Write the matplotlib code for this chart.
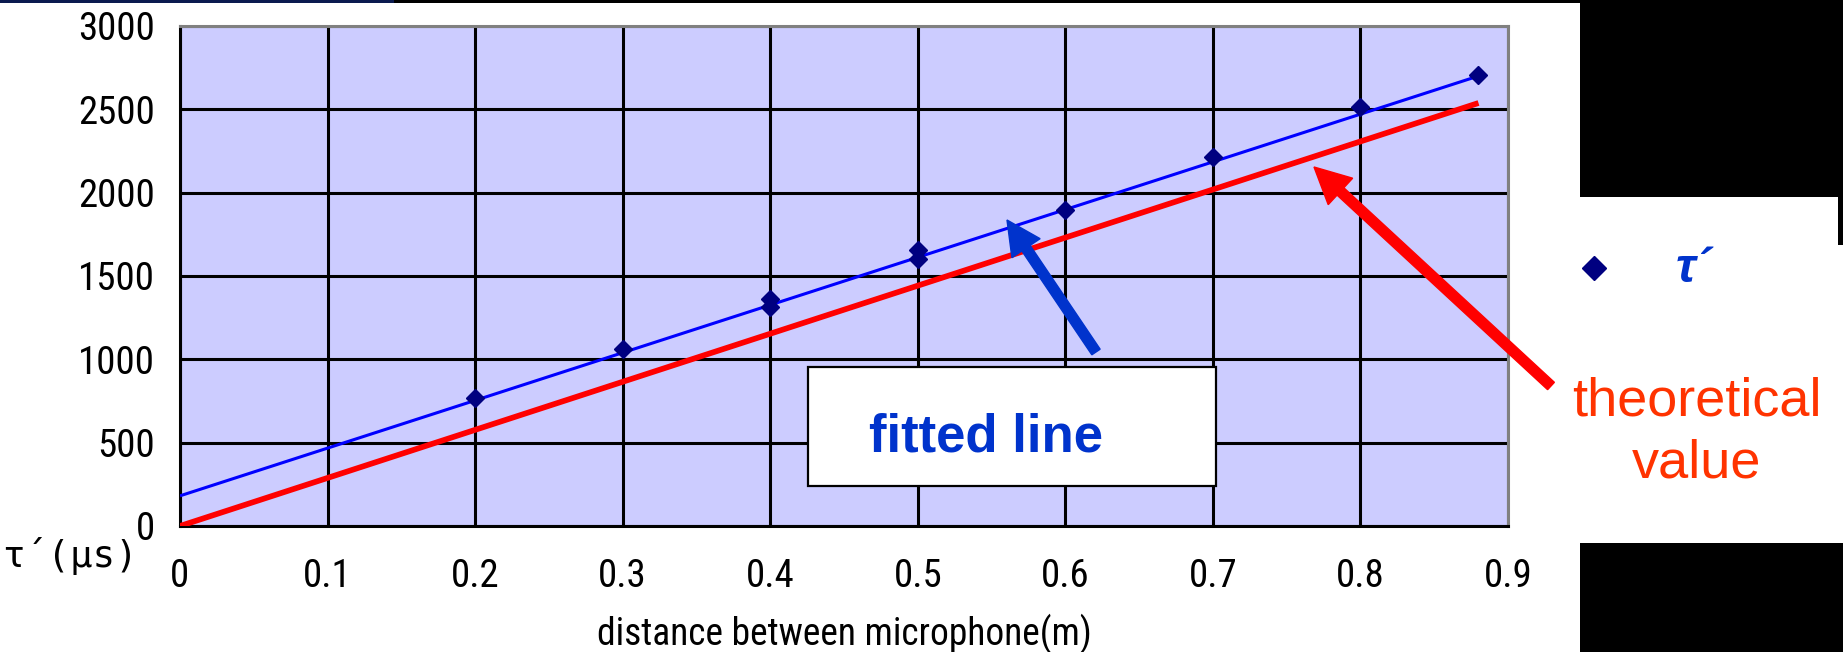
import matplotlib
matplotlib.use('Agg')
import matplotlib.pyplot as plt
from matplotlib import font_manager as fm
from matplotlib.patches import Rectangle, FancyArrow
from matplotlib.lines import Line2D
from matplotlib.transforms import IdentityTransform

# ---------------- data ----------------
dist = [0.2, 0.3, 0.4, 0.4, 0.5, 0.5, 0.6, 0.7, 0.8, 0.88]
tau = [770, 1065, 1315, 1365, 1605, 1655, 1895, 2212, 2514, 2705]
fit_x = [0.0, 0.88]
fit_y = [181, 2700]
theo_x = [0.0, 0.88]
theo_y = [0, 2538]
xticks = [0, 0.1, 0.2, 0.3, 0.4, 0.5, 0.6, 0.7, 0.8, 0.9]
xticklabels = ['0', '0.1', '0.2', '0.3', '0.4', '0.5', '0.6', '0.7', '0.8', '0.9']
yticks = [0, 500, 1000, 1500, 2000, 2500, 3000]
yticklabels = ['0', '500', '1000', '1500', '2000', '2500', '3000']

# ---------------- fonts ----------------
names = {f.name for f in fm.fontManager.ttflist}
narrow = None
for cand in ['Liberation Sans Narrow', 'Roboto Condensed', 'Open Sans Condensed', 'DejaVu Sans']:
    if cand in names:
        narrow = cand
        break
tick_family = [narrow, 'DejaVu Sans']
sans = ['Liberation Sans', 'DejaVu Sans']
mono = ['DejaVu Sans Mono', 'DejaVu Sans']

W, H = 1843, 652
fig = plt.figure(figsize=(W / 100, H / 100), dpi=100)
fig.patch.set_facecolor('white')


def frect(x0, y0, x1, y1, color, z=0.5, **kw):
    r = Rectangle((x0 / W, 1 - y1 / H), (x1 - x0) / W, (y1 - y0) / H,
                  transform=fig.transFigure, facecolor=color, edgecolor='none', zorder=z, **kw)
    fig.add_artist(r)
    return r


# background decorations
frect(0, 0, W, 3, 'black', z=-1)
frect(0, 0, 394, 3, '#0b1a4f', z=-1)
frect(1580, 0, W, 197, 'black', z=-1)
frect(1580, 543, W, H, 'black', z=-1)
frect(1838, 197, W, 245, 'black', z=-1)

ax = fig.add_axes([180 / W, 1 - 526 / H, 1328 / W, 500 / H])
ax.set_facecolor('#CCCCFF')
ax.set_xlim(0, 0.9)
ax.set_ylim(0, 3000)
ax.set_xticks(xticks)
ax.set_xticklabels(xticklabels)
ax.set_yticks(yticks)
ax.set_yticklabels(yticklabels)
ax.tick_params(length=0, labelsize=28)
ax.tick_params(axis='x', pad=23)
ax.tick_params(axis='y', pad=18)
for lab in ax.get_xticklabels() + ax.get_yticklabels():
    lab.set_family(tick_family)
ax.set_axisbelow(True)
ax.grid(True, color='black', linewidth=2.2)
for s in ['left', 'bottom']:
    ax.spines[s].set_color('black')
    ax.spines[s].set_linewidth(2.2)
for s in ['top', 'right']:
    ax.spines[s].set_color('#808080')
    ax.spines[s].set_linewidth(2.2)

ax.plot(theo_x, theo_y, color='#FF0000', linewidth=4.1, solid_capstyle='butt', zorder=3)
ax.plot(fit_x, fit_y, color='#0000FF', linewidth=2.2, solid_capstyle='butt', zorder=4)
ax.plot(dist, tau, linestyle='none', marker='D', markersize=9,
        color='#000080', zorder=5)

ax.set_xlabel('distance between microphone(m)', fontsize=27, family=tick_family)
ax.xaxis.set_label_coords(0.5, -0.176)

fig.text(70 / W, 1 - 556 / H, 'τ´(μs)', ha='center', va='center',
         fontsize=27, family=mono)

# fitted line text box
frect(808, 367, 1216, 486, 'white', z=5)
fig.add_artist(Rectangle((808 / W, 1 - 486 / H), 408 / W, 119 / H, transform=fig.transFigure,
                         facecolor='none', edgecolor='black', linewidth=1.6, zorder=6))
fig.text(869 / W, 1 - 452 / H, 'fitted line', ha='left', va='baseline',
         fontsize=38, fontweight='bold', color='#0033CC', family=sans, zorder=7)

# arrows (in pixel coordinates)
ident = IdentityTransform()
fig.add_artist(FancyArrow(1551, H - 386, 1314 - 1551, (H - 167) - (H - 386),
                          width=10, head_width=36, head_length=36,
                          length_includes_head=True, color='#FF0000',
                          transform=ident, zorder=8))
fig.add_artist(FancyArrow(1096, H - 352, 1007 - 1096, (H - 220) - (H - 352),
                          width=10, head_width=34, head_length=34,
                          length_includes_head=True, color='#0033CC',
                          transform=ident, zorder=8))

# annotation text
fig.text(1697 / W, 1 - 416 / H, 'theoretical', ha='center', va='baseline',
         fontsize=39, color='#FF3300', family=sans, zorder=8)
fig.text(1697 / W, 1 - 478 / H, 'value', ha='center', va='baseline',
         fontsize=39, color='#FF3300', family=sans, zorder=8)

# legend
fig.add_artist(Line2D([1594 / W], [1 - 268 / H], transform=fig.transFigure,
                      marker='D', markersize=12, color='#000080', linestyle='none', zorder=8))
fig.text(1676 / W, 1 - 282 / H, 'τ´', ha='left', va='baseline', fontsize=35,
         fontweight='bold', fontstyle='italic', color='#0033CC', family=sans, zorder=8)

fig.savefig('out.png', dpi=100, facecolor='white')
